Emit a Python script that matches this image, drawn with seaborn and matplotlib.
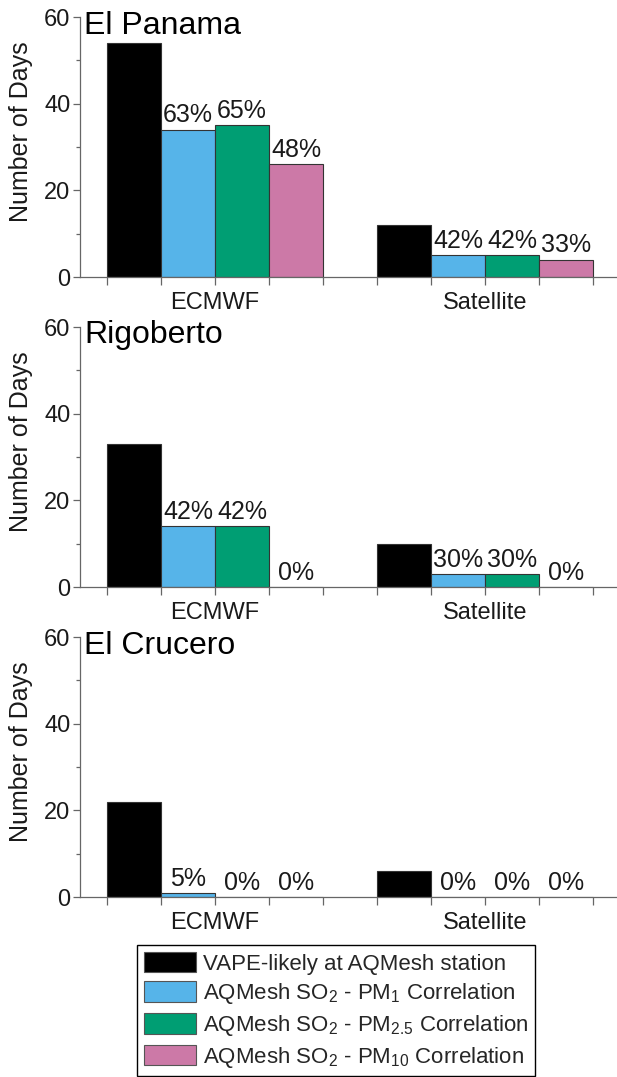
import numpy as np
import pandas as pd
import matplotlib
matplotlib.use("Agg")
import matplotlib.pyplot as plt
from matplotlib.patches import Patch
from matplotlib.ticker import MultipleLocator
import seaborn as sns

sns.set_style("white")
plt.rcParams["font.family"] = ["Liberation Sans", "DejaVu Sans"]
plt.rcParams["mathtext.fontset"] = "custom"
plt.rcParams["mathtext.rm"] = "Liberation Sans"
plt.rcParams["mathtext.it"] = "Liberation Sans:italic"

# --- data -------------------------------------------------------------
stations = ["El Panama", "Rigoberto", "El Crucero"]
sources = ["ECMWF", "Satellite"]
series = ["VAPE", "PM1", "PM2.5", "PM10"]

# days per station, per source: [VAPE-likely, PM1, PM2.5, PM10]
el_panama = {"ECMWF": [54, 34, 35, 26], "Satellite": [12, 5, 5, 4]}
rigoberto = {"ECMWF": [33, 14, 14, 0], "Satellite": [10, 3, 3, 0]}
el_crucero = {"ECMWF": [22, 1, 0, 0], "Satellite": [6, 0, 0, 0]}
station_data = [el_panama, rigoberto, el_crucero]

colors = ["#000000", "#56B4E9", "#009E73", "#CC79A7"]
legend_labels = [
    "VAPE-likely at AQMesh station",
    r"AQMesh SO$_2$ - PM$_1$ Correlation",
    r"AQMesh SO$_2$ - PM$_{2.5}$ Correlation",
    r"AQMesh SO$_2$ - PM$_{10}$ Correlation",
]

# --- figure -----------------------------------------------------------
W, H = 617, 1077
fig = plt.figure(figsize=(W / 100, H / 100), dpi=100)

ax_left = 80 / W
ax_width = 540 / W
ax_height = 260 / H
zero_rows = [277, 587, 897]

axis_color = "#666666"
text_color = "#1a1a1a"

for name, data, zero_y in zip(stations, station_data, zero_rows):
    ax = fig.add_axes([ax_left, 1 - zero_y / H, ax_width, ax_height])

    rows = []
    for gi, src in enumerate(sources):
        for si, (s, v) in enumerate(zip(series, data[src])):
            rows.append({"pos": gi * 5 + si + 0.5, "days": v, "series": s,
                         "source": src, "idx": si})
    df = pd.DataFrame(rows)

    sns.barplot(data=df, x="pos", y="days", hue="series", hue_order=series,
                palette=colors, saturation=1, native_scale=True, dodge=False,
                width=1.0, errorbar=None, legend=False, edgecolor="#333333",
                linewidth=0.8, ax=ax)

    # percentage of VAPE-likely days over each correlation bar
    for src in sources:
        vals = data[src]
        sub = df[df["source"] == src]
        for _, r in sub.iterrows():
            if r["idx"] == 0:
                continue
            pct = int(round(r["days"] / vals[0] * 100)) if vals[0] else 0
            ax.text(r["pos"], r["days"] + 0.5, f"{pct}%", ha="center",
                    va="bottom", fontsize=18, color=text_color)

    ax.set_xlim(-0.5, 9.5)
    ax.set_ylim(0, 60)
    ax.yaxis.set_major_locator(MultipleLocator(20))
    ax.yaxis.set_minor_locator(MultipleLocator(10))
    ax.set_xticks(range(10),
                  labels=["", "", sources[0], "", "", "", "", sources[1], "", ""])
    ax.tick_params(axis="x", which="major", bottom=True, direction="out",
                   length=6, width=0.9, color=axis_color, labelsize=17,
                   labelcolor=text_color, pad=5)
    ax.tick_params(axis="y", which="major", left=True, direction="out",
                   length=5, width=0.9, color=axis_color, labelsize=17,
                   labelcolor=text_color, pad=2)
    ax.tick_params(axis="y", which="minor", left=True, direction="out",
                   length=3, width=0.9, color=axis_color)
    ax.set_xlabel("")
    ax.set_ylabel("Number of Days", fontsize=18, color=text_color)
    ax.yaxis.set_label_coords(-0.087, 0.558)

    for side in ["top", "right"]:
        ax.spines[side].set_visible(False)
    for side in ["left", "bottom"]:
        ax.spines[side].set_color(axis_color)
        ax.spines[side].set_linewidth(0.9)

    ax.text(0.008, 1.025, name, transform=ax.transAxes, ha="left", va="top",
            fontsize=23, color="black")

handles = [Patch(facecolor=c, edgecolor="#555555", linewidth=0.8) for c in colors]
fig.legend(handles, legend_labels, loc="upper left",
           bbox_to_anchor=(137 / W, 1 - 945 / H), fontsize=16,
           frameon=True, fancybox=False, edgecolor="black", framealpha=1,
           handlelength=2.35, handleheight=1.05, handletextpad=0.3,
           labelspacing=0.3, borderpad=0.3, borderaxespad=0)

fig.savefig("out.png", dpi=100)
